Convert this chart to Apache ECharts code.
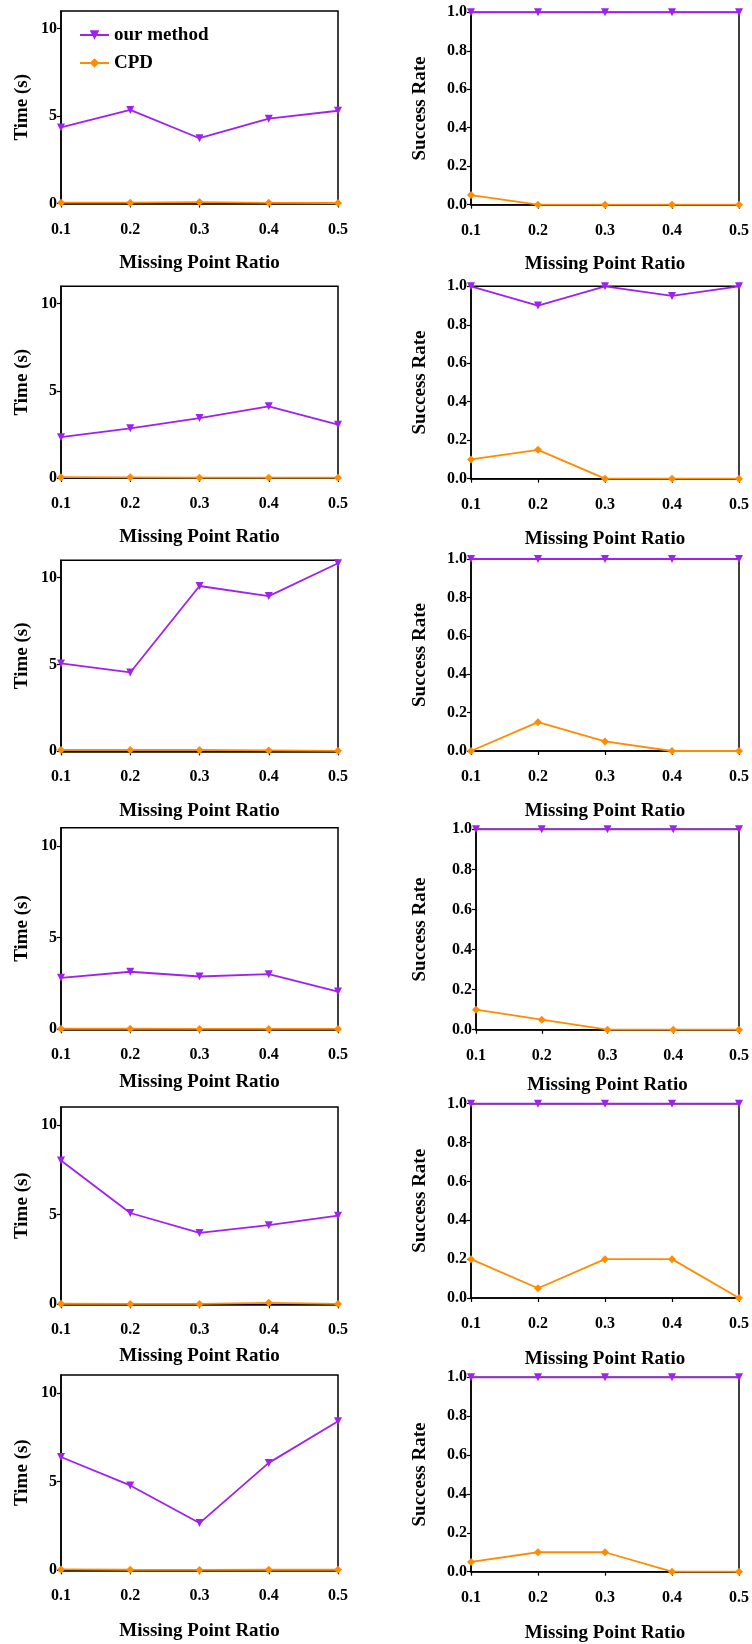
<!DOCTYPE html>
<html>
<head>
<meta charset="utf-8">
<script src="https://cdn.jsdelivr.net/npm/echarts@6/dist/echarts.min.js"></script>
<style>
html,body{margin:0;padding:0;background:#fff;}
#chart{width:752px;height:1644px;}
</style>
</head>
<body>
<div id="chart"></div>
<script>
// ---- data ----
const xLabels = ['0.1', '0.2', '0.3', '0.4', '0.5'];
const seriesNames = ['our method', 'CPD'];
const timeTicks = [0, 5, 10];
const rateTicks = [0, 0.2, 0.4, 0.6, 0.8, 1.0];

const timeOurs1 = [4.35, 5.35, 3.73, 4.85, 5.3];
const timeCPD1  = [0.05, 0.05, 0.08, 0.04, 0.03];
const rateOurs1 = [1, 1, 1, 1, 1];
const rateCPD1  = [0.05, 0, 0, 0, 0];

const timeOurs2 = [2.34, 2.85, 3.44, 4.11, 3.06];
const timeCPD2  = [0.05, 0.04, 0.02, 0.02, 0.02];
const rateOurs2 = [1, 0.9, 1, 0.95, 1];
const rateCPD2  = [0.1, 0.15, 0, 0, 0];

const timeOurs3 = [5.06, 4.54, 9.52, 8.94, 10.83];
const timeCPD3  = [0.08, 0.08, 0.08, 0.05, 0.03];
const rateOurs3 = [1, 1, 1, 1, 1];
const rateCPD3  = [0, 0.15, 0.05, 0, 0];

const timeOurs4 = [2.81, 3.14, 2.88, 3.01, 2.06];
const timeCPD4  = [0.03, 0.03, 0.02, 0.02, 0.02];
const rateOurs4 = [1, 1, 1, 1, 1];
const rateCPD4  = [0.1, 0.05, 0, 0, 0];

const timeOurs5 = [8.02, 5.09, 3.98, 4.41, 4.94];
const timeCPD5  = [0.03, 0.02, 0.02, 0.08, 0.02];
const rateOurs5 = [1, 1, 1, 1, 1];
const rateCPD5  = [0.2, 0.05, 0.2, 0.2, 0];

const timeOurs6 = [6.38, 4.78, 2.66, 6.05, 8.4];
const timeCPD6  = [0.05, 0.03, 0.02, 0.03, 0.03];
const rateOurs6 = [1, 1, 1, 1, 1];
const rateCPD6  = [0.05, 0.1, 0.1, 0, 0];

const timeData = [
  [timeOurs1, timeCPD1], [timeOurs2, timeCPD2], [timeOurs3, timeCPD3],
  [timeOurs4, timeCPD4], [timeOurs5, timeCPD5], [timeOurs6, timeCPD6]
];
const rateData = [
  [rateOurs1, rateCPD1], [rateOurs2, rateCPD2], [rateOurs3, rateCPD3],
  [rateOurs4, rateCPD4], [rateOurs5, rateCPD5], [rateOurs6, rateCPD6]
];

// ---- layout (pixels) ----
// [left, right, top, bottom, xNameGap, yNameGap]
const leftLayout = [
  [61, 338, 11, 203.5, 50, 29],
  [61, 338, 286.3, 478, 49.7, 29],
  [61, 338, 560.3, 751.3, 50.4, 29],
  [61, 338, 827.7, 1029.3, 43.7, 29],
  [61, 338, 1107, 1304.3, 42.7, 29],
  [61, 338, 1375, 1570.3, 51.7, 29]
];
const rightLayout = [
  [471, 739, 12.3, 204.7, 50.3, 41],
  [471, 739, 286.3, 478.7, 50.6, 41],
  [471, 739, 559, 751, 50.7, 41],
  [476, 739, 829.3, 1029.7, 46, 46],
  [471, 739, 1103.7, 1298, 51.7, 41],
  [471, 739, 1377.3, 1571.7, 52, 41]
];

const PURPLE = '#A020F0';
const ORANGE = '#FF8C00';
const FONT = '"Liberation Serif", "Times New Roman", serif';

const grids = [], xAxes = [], yAxes = [], series = [];

function addPanel(lay, data, isTime) {
  const idx = grids.length;
  const [l, r, t, b, xGap, yGap] = lay;
  grids.push({
    left: l, top: t, width: r - l, height: b - t,
    show: true, borderColor: '#000', borderWidth: 1.5, containLabel: false
  });
  xAxes.push({
    type: 'category', gridIndex: idx, data: xLabels, boundaryGap: false,
    name: 'Missing Point Ratio', nameLocation: 'middle', nameGap: xGap,
    nameTextStyle: { fontFamily: FONT, fontWeight: 'bold', fontSize: 19, color: '#000' },
    axisLine: { show: true, lineStyle: { color: '#000', width: 1.5 } },
    axisTick: { show: true, alignWithLabel: true, length: 4, lineStyle: { color: '#000', width: 1.2 } },
    axisLabel: { fontFamily: FONT, fontWeight: 'bold', fontSize: 16, color: '#000', margin: 18 },
    splitLine: { show: false }
  });
  yAxes.push({
    type: 'value', gridIndex: idx, min: 0, max: isTime ? 11 : 1,
    interval: isTime ? 5 : 0.2,
    name: isTime ? 'Time (s)' : 'Success Rate', nameLocation: 'middle', nameGap: yGap,
    nameTextStyle: { fontFamily: FONT, fontWeight: 'bold', fontSize: 19, color: '#000' },
    axisLine: { show: true, lineStyle: { color: '#000', width: 1.5 } },
    axisTick: { show: true, length: 4, lineStyle: { color: '#000', width: 1.2 },
      customValues: isTime ? timeTicks : rateTicks },
    axisLabel: { fontFamily: FONT, fontWeight: 'bold', fontSize: 16, color: '#000', margin: 4,
      customValues: isTime ? timeTicks : rateTicks,
      formatter: isTime ? (v => String(v)) : (v => Number(v).toFixed(1)) },
    splitLine: { show: false }
  });
  series.push({
    name: seriesNames[0], type: 'line', xAxisIndex: idx, yAxisIndex: idx,
    data: data[0], symbol: 'triangle', symbolRotate: 180, symbolSize: 8,
    clip: false, lineStyle: { color: PURPLE, width: 1.8 },
    itemStyle: { color: PURPLE }, z: 5
  });
  series.push({
    name: seriesNames[1], type: 'line', xAxisIndex: idx, yAxisIndex: idx,
    data: data[1], symbol: 'diamond', symbolSize: 8,
    clip: false, lineStyle: { color: ORANGE, width: 1.8 },
    itemStyle: { color: ORANGE }, z: 4
  });
}

for (let i = 0; i < 6; i++) {
  addPanel(leftLayout[i], timeData[i], true);
  addPanel(rightLayout[i], rateData[i], false);
}

const chart = echarts.init(document.getElementById('chart'), null, { renderer: 'canvas' });
chart.setOption({
  animation: false,
  backgroundColor: '#fff',
  legend: {
    data: seriesNames, orient: 'vertical', left: 79, top: 25, padding: 0,
    itemWidth: 29, itemHeight: 12, itemGap: 8, itemTextGap: 4,
    textStyle: { fontFamily: FONT, fontWeight: 'bold', fontSize: 19, color: '#000', lineHeight: 20 }
  },
  grid: grids, xAxis: xAxes, yAxis: yAxes, series: series
});
</script>
</body>
</html>
